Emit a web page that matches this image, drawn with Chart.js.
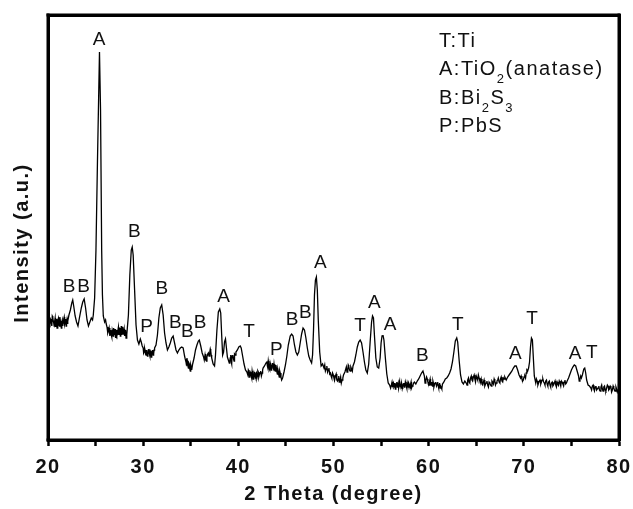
<!DOCTYPE html>
<html>
<head>
<meta charset="utf-8">
<script src="https://cdn.jsdelivr.net/npm/chart.js@4.4.0/dist/chart.umd.min.js"></script>
<style>
  html, body { margin: 0; padding: 0; background: #fff; }
  #wrap { width: 633px; height: 509px; }
</style>
</head>
<body>
<div id="wrap"><canvas id="xrd"></canvas></div>
<script>
// XRD scan, [2theta, intensity (a.u.)]
const scan20 = [
  [20.0,118],[20.1,122],[20.2,115],[20.3,120],[20.4,114],[20.5,123],[20.6,117],[20.7,119],[20.8,113],[20.9,121],
  [21.0,116],[21.1,122],[21.2,114],[21.3,119],[21.4,112],[21.5,120],[21.6,117],[21.7,123],[21.8,118],[21.9,114],
  [22.0,121],[22.1,119],[22.2,125],[22.35,130],[22.5,137],[22.6,140],[22.7,134],[22.85,124],[23.0,118],[23.15,114],
  [23.3,122],[23.5,132],[23.65,138],[23.8,141],[23.95,132],[24.1,120],[24.25,114],[24.4,118],[24.55,122],[24.68,120],
  [24.76,125],[24.9,142],[25.04,190],[25.2,280],[25.41,388],[25.52,330],[25.64,190],[25.72,145],[25.81,124],[25.95,118],
  [26.05,120],[26.2,113],[26.35,109],[26.5,104],[26.6,110],[26.7,103],[26.8,108],[26.9,112],[27.0,105],[27.1,102],
  [27.2,110],[27.3,106],[27.4,113],[27.5,109],[27.6,104],[27.7,114],[27.8,110],[27.9,106],[28.0,111],[28.1,107],
  [28.2,102],[28.3,105],[28.45,125],[28.6,165],[28.75,190],[28.85,193],[28.95,185],[29.1,150],[29.25,115],[29.4,100],
  [29.55,96],[29.7,101],[29.8,98],[29.9,94]
];
const scan30 = [
  [30.0,92],[30.1,88],[30.2,90],[30.3,85],[30.4,89],[30.5,86],[30.6,91],[30.7,84],[30.8,88],[30.9,85],
  [31.0,90],[31.1,86],[31.2,92],[31.35,95],[31.5,105],[31.65,122],[31.8,132],[31.95,135],[32.1,125],[32.25,107],
  [32.4,97],[32.55,90],[32.7,93],[32.85,97],[33.0,102],[33.15,104],[33.3,97],[33.45,90],[33.6,87],[33.75,90],
  [33.9,92],[34.05,93],[34.2,92],[34.35,84],[34.5,78],[34.6,82],[34.7,74],[34.8,77],[34.9,71],[35.0,75],
  [35.1,70],[35.2,76],[35.35,82],[35.5,90],[35.65,95],[35.8,99],[35.9,100],[36.05,94],[36.2,87],[36.35,83],
  [36.5,85],[36.6,80],[36.7,83],[36.85,87],[37.0,88],[37.1,89],[37.2,82],[37.35,76],[37.5,74],[37.6,85],
  [37.75,110],[37.9,128],[38.05,131],[38.15,127],[38.25,105],[38.35,85],[38.45,88],[38.55,98],[38.65,101],[38.75,92],
  [38.85,83],[38.95,80],[39.05,77],[39.15,82],[39.25,78],[39.35,84],[39.5,81],[39.6,86],[39.75,88],[39.9,90]
];
const scan40 = [
  [40.05,93],[40.2,94],[40.3,92],[40.45,84],[40.6,76],[40.75,70],[40.9,68],[41.0,65],[41.1,69],[41.2,64],
  [41.3,67],[41.4,62],[41.5,66],[41.6,63],[41.7,68],[41.8,62],[41.9,67],[42.0,64],[42.1,68],[42.2,65],
  [42.35,69],[42.5,67],[42.6,72],[42.75,74],[42.9,77],[43.0,78],[43.1,72],[43.2,76],[43.3,70],[43.4,75],
  [43.5,73],[43.6,77],[43.7,71],[43.8,74],[43.9,69],[44.0,72],[44.1,66],[44.2,69],[44.3,63],[44.4,67],
  [44.55,60],[44.65,62],[44.8,68],[44.95,75],[45.1,84],[45.25,95],[45.45,104],[45.6,106],[45.75,104],[45.9,95],
  [46.05,88],[46.2,85],[46.35,88],[46.5,97],[46.65,106],[46.8,112],[46.95,110],[47.1,102],[47.25,92],[47.4,84],
  [47.55,80],[47.7,77],[47.8,85],[47.9,110],[48.0,145],[48.1,160],[48.2,163],[48.3,150],[48.4,120],[48.55,88],
  [48.7,74],[48.85,76],[49.0,72],[49.15,69],[49.3,74],[49.45,70],[49.6,66],[49.75,64],[49.9,67]
];
const scan50 = [
  [50.05,62],[50.2,64],[50.35,60],[50.5,61],[50.6,58],[50.75,63],[50.9,60],[51.05,65],[51.2,68],[51.35,73],
  [51.5,70],[51.6,74],[51.75,69],[51.9,71],[52.05,74],[52.2,78],[52.35,85],[52.5,93],[52.65,98],[52.8,100],
  [52.95,97],[53.1,88],[53.25,78],[53.4,70],[53.55,67],[53.7,76],[53.85,98],[54.0,118],[54.1,124],[54.2,122],
  [54.3,105],[54.45,82],[54.6,73],[54.75,72],[54.9,82],[55.0,97],[55.1,104],[55.2,105],[55.3,100],[55.45,82],
  [55.6,66],[55.75,57],[55.9,55],[56.0,52],[56.1,56],[56.2,53],[56.3,57],[56.4,54],[56.5,51],[56.6,56],
  [56.7,53],[56.8,57],[56.9,54],[57.0,56],[57.1,52],[57.2,55],[57.3,53],[57.4,57],[57.5,54],[57.6,56],
  [57.7,52],[57.8,55],[57.9,57],[58.0,54],[58.1,56],[58.2,52],[58.35,55],[58.5,58],[58.65,56],[58.8,59],
  [58.95,61],[59.1,64],[59.25,67],[59.4,69],[59.55,64],[59.7,60],[59.85,61]
];
const scan60 = [
  [60.0,57],[60.1,59],[60.2,56],[60.3,58],[60.4,54],[60.5,57],[60.6,55],[60.75,58],[60.9,56],[61.0,54],
  [61.1,55],[61.2,52],[61.3,53],[61.45,56],[61.6,58],[61.75,61],[61.9,62],[62.05,64],[62.2,67],[62.35,71],
  [62.5,78],[62.65,88],[62.8,99],[62.95,102],[63.05,98],[63.2,80],[63.35,65],[63.5,58],[63.65,56],[63.8,59],
  [63.95,57],[64.1,60],[64.25,58],[64.4,62],[64.55,60],[64.7,63],[64.85,61],[65.0,64],[65.15,60],[65.3,62],
  [65.45,58],[65.6,56],[65.75,58],[65.9,54],[66.05,57],[66.2,55],[66.35,58],[66.5,55],[66.65,59],[66.8,56],
  [66.95,59],[67.1,57],[67.25,60],[67.4,58],[67.55,61],[67.7,59],[67.85,62],[68.0,63],[68.15,60],[68.3,63],
  [68.45,65],[68.6,67],[68.75,69],[68.9,72],[69.05,74],[69.2,74],[69.35,70],[69.5,65],[69.65,62],[69.8,61],
  [69.95,60]
];
const scan70 = [
  [70.1,64],[70.25,67],[70.4,69],[70.5,72],[70.6,78],[70.7,93],[70.8,102],[70.9,100],[71.0,82],[71.1,64],
  [71.25,57],[71.4,59],[71.55,57],[71.7,60],[71.85,58],[72.0,61],[72.15,57],[72.3,59],[72.45,56],[72.6,58],
  [72.75,55],[72.9,57],[73.05,54],[73.2,57],[73.35,55],[73.5,58],[73.65,55],[73.8,57],[73.95,59],[74.1,56],
  [74.25,58],[74.4,56],[74.55,59],[74.7,62],[74.85,66],[75.0,70],[75.15,73],[75.3,75],[75.45,74],[75.6,69],
  [75.75,64],[75.9,61],[76.05,62],[76.15,65],[76.3,71],[76.4,72],[76.5,67],[76.6,60],[76.75,55],[76.9,54],
  [77.05,52],[77.2,54],[77.35,51],[77.5,53],[77.65,50],[77.8,52],[77.95,50],[78.1,53],[78.25,51],[78.4,53],
  [78.55,50],[78.7,52],[78.85,54],[79.0,51],[79.15,53],[79.3,50],[79.45,52],[79.6,49],[79.75,51],[79.9,50],
  [80.0,52]
];

// in-between readings of the counting noise on the flat stretches
const noise20 = [
  [20.05,124],[20.15,116],[20.25,121],[20.35,117],[20.45,124],[20.55,119],[20.65,114],[20.75,122],[20.85,117],[20.95,112],
  [21.05,120],[21.15,115],[21.25,123],[21.35,115],[21.45,118],[21.55,114],[21.65,121],[21.75,116],[21.85,121],[21.95,118],
  [22.05,116],
  [26.12,116],[26.28,107],[26.42,112],[26.55,107],[26.65,105],[26.75,110],[26.85,104],[26.95,108],[27.05,111],[27.15,106],
  [27.25,104],[27.35,110],[27.45,105],[27.55,112],[27.65,108],[27.75,105],[27.85,113],[27.95,108],[28.05,104],[28.15,110],
  [28.25,106],
  [30.05,87],[30.15,92],[30.25,86],[30.35,90],[30.45,84],[30.55,90],[30.65,86],[30.75,89],[30.85,83],[30.95,89],
  [31.05,85],[31.15,90],
  [34.42,81],[34.55,75],[34.65,79],[34.75,72],[34.85,76],[34.95,69],[35.05,73],
  [36.42,80],[36.55,86],[36.65,79],[36.78,86],[36.92,84],[37.05,91],[37.15,85],
  [39.1,79],[39.2,85],[39.3,76],[39.42,85],[39.55,79],[39.68,85]
];
const noise40 = [
  [41.05,70],[41.15,63],[41.25,68],[41.35,64],[41.45,69],[41.55,61],[41.65,67],[41.75,64],[41.85,66],[41.95,62],
  [42.05,69],[42.15,63],[42.28,67],[42.42,64],[42.55,70],
  [43.05,74],[43.15,79],[43.25,71],[43.35,77],[43.45,70],[43.55,75],[43.65,72],[43.75,76],[43.85,70],[43.95,75],
  [44.05,68],[44.15,71],[44.25,65],[44.35,69],[44.48,63],
  [49.08,75],[49.22,71],[49.38,68],[49.52,72],[49.68,67],[49.82,62],[49.98,65],[50.12,60],[50.28,66],[50.42,59],
  [50.55,64],[50.68,60],[50.82,57],[50.98,62],
  [51.42,68],[51.55,75],[51.68,70],[51.82,73],[51.98,69],
  [56.05,54],[56.15,58],[56.25,55],[56.35,53],[56.45,57],[56.55,54],[56.65,58],[56.75,55],[56.85,52],[56.95,58],
  [57.05,54],[57.15,57],[57.25,51],[57.35,56],[57.45,53],[57.55,58],[57.65,54],[57.75,57],[57.85,53],[57.95,56],
  [58.05,52],[58.15,58],[58.28,54],[58.42,57],
  [59.62,57],[59.78,63],[59.92,58]
];
const noise60 = [
  [60.05,55],[60.15,61],[60.25,55],[60.35,57],[60.45,59],[60.55,53],[60.68,57],[60.82,54],[60.95,58],[61.05,52],
  [61.15,57],[61.25,54],[61.38,51],
  [64.03,55],[64.18,62],[64.32,57],[64.48,64],[64.62,59],[64.78,65],[64.92,58],[65.08,62],[65.22,65],[65.38,59],
  [65.52,61],[65.68,55],[65.82,60],[65.98,56],[66.12,59],[66.28,53],[66.42,57],[66.58,54],[66.72,58],[66.88,61],
  [67.02,55],[67.18,59],[67.32,62],[67.48,57],[67.62,63],[67.78,58],[67.92,61],
  [69.72,64],[69.88,59],[70.02,63],[70.18,62],[70.32,70],
  [71.32,61],[71.48,55],[71.62,59],[71.78,56],[71.92,60],[72.08,58],[72.22,55],[72.38,60],[72.52,54],[72.68,59],
  [72.82,53],[72.98,58],[73.12,55],[73.28,59],[73.42,53],[73.58,56],[73.72,59],[73.88,54],[74.02,58],[74.18,54],
  [74.32,60],[74.48,57],
  [75.82,59],[75.98,64],
  [77.12,50],[77.28,55],[77.42,49],[77.58,54],[77.72,51],[77.88,54],[78.02,49],[78.18,55],[78.32,49],[78.48,54],
  [78.62,49],[78.78,55],[78.92,50],[79.08,54],[79.22,48],[79.38,54],[79.52,50],[79.68,53],[79.82,48],[79.95,53]
];

// phase letters above the reflections: [2theta, intensity, letter]
const peakLabels = [
  [22.21,153,'B'],[23.75,153,'B'],[25.36,400,'A'],[29.07,208,'B'],[30.37,113,'P'],
  [31.95,151,'B'],[33.38,117,'B'],[34.64,108,'B'],[35.97,117,'B'],[38.46,143,'A'],
  [41.12,108,'T'],[43.99,90,'P'],[45.64,120,'B'],[47.04,127,'B'],[48.61,177,'A'],
  [52.78,114,'T'],[54.29,137,'A'],[55.94,115,'A'],[59.33,84,'B'],[63.05,115,'T'],
  [69.1,86,'A'],[70.86,121,'T'],[75.38,86,'A'],[77.13,87,'T']
];

// key in the upper right corner, [text, isSubscript]
const keyRows = [
  [['T:Ti', 0]],
  [['A:TiO', 0], ['2', 1], ['(anatase)', 0]],
  [['B:Bi', 0], ['2', 1], ['S', 0], ['3', 1]],
  [['P:PbS', 0]]
];

const xTitle = '2 Theta (degree)';
const yTitle = 'Intensity (a.u.)';

const points = [...scan20, ...scan30, ...scan40, ...scan50, ...scan60, ...scan70,
                ...noise20, ...noise40, ...noise60]
  .sort((a, b) => a[0] - b[0])
  .map(([t, v]) => ({x: t, y: v}));

const FONT = '"Liberation Sans", Arial, sans-serif';
Chart.defaults.font.family = FONT;
Chart.defaults.color = '#111';

// keep the plot box fixed: 48..619 wide, 15..440 high
const fitX = s => { s.height = 69; s.paddingLeft = 0; s.paddingRight = 0; };
const fitY = s => { s.width = 48; s.paddingTop = 0; s.paddingBottom = 0; };
const fitTop = s => { s.height = 0; s.paddingLeft = 0; s.paddingRight = 0; };
const fitRight = s => { s.width = 0; s.paddingTop = 0; s.paddingBottom = 0; };
const frameBorder = {display: true, color: '#000', width: 3};

const decor = {
  id: 'decor',
  afterDraw(chart) {
    const {ctx, chartArea: a, scales: {x, y}} = chart;
    const w = a.right - a.left, h = a.bottom - a.top, t = 3;
    ctx.save();
    // box round the plot
    ctx.fillStyle = '#000';
    ctx.fillRect(a.left - t / 2, a.top - t / 2, w + t, t);
    ctx.fillRect(a.left - t / 2, a.bottom - t / 2, w + t, t);
    ctx.fillRect(a.left - t / 2, a.top - t / 2, t, h + t);
    ctx.fillRect(a.right - t / 2, a.top - t / 2, t, h + t);

    ctx.fillStyle = '#111';
    ctx.font = '19px ' + FONT;
    ctx.textAlign = 'center';
    ctx.textBaseline = 'middle';
    peakLabels.forEach(([px, v, s]) => {
      ctx.fillText(s, x.getPixelForValue(px), y.getPixelForValue(v));
    });

    ctx.letterSpacing = '1.5px';
    ctx.textAlign = 'left';
    ctx.textBaseline = 'alphabetic';
    keyRows.forEach((row, i) => {
      let cx = 439;
      const base = 47 + i * 28.3;
      row.forEach(([txt, sub]) => {
        ctx.font = (sub ? '13px ' : '20px ') + FONT;
        ctx.fillText(txt, cx, base + (sub ? 8 : 0));
        cx += ctx.measureText(txt).width;
      });
    });

    ctx.translate(22, 243);
    ctx.rotate(-Math.PI / 2);
    ctx.font = 'bold 20px ' + FONT;
    ctx.textAlign = 'center';
    ctx.textBaseline = 'middle';
    ctx.fillText(yTitle, 0, 0);
    ctx.restore();
  }
};

// wider spacing for the axis texts drawn by Chart.js
const spacing = {
  id: 'spacing',
  beforeDraw(chart) { chart.ctx.letterSpacing = '1.5px'; },
  afterDraw(chart) { chart.ctx.letterSpacing = '0px'; }
};

new Chart(document.getElementById('xrd'), {
  type: 'scatter',
  data: {
    datasets: [{
      data: points,
      showLine: true,
      borderColor: '#000',
      borderWidth: 1.3,
      pointRadius: 0,
      tension: 0
    }]
  },
  options: {
    responsive: true,
    maintainAspectRatio: false,
    animation: false,
    devicePixelRatio: 1,
    layout: {padding: {top: 15, right: 14, left: 0, bottom: 0}},
    plugins: {
      legend: {display: false},
      tooltip: {enabled: false}
    },
    scales: {
      x: {
        type: 'linear',
        min: 20,
        max: 80,
        ticks: {
          stepSize: 5,
          autoSkip: false,
          maxRotation: 0,
          padding: 9,
          color: '#111',
          font: {size: 20, weight: 'bold'},
          callback: v => v % 10 === 0 ? v : ''
        },
        grid: {drawOnChartArea: false, drawTicks: true, tickLength: 6, tickWidth: 2.5, color: '#000'},
        border: frameBorder,
        title: {
          display: true,
          text: xTitle,
          color: '#111',
          font: {size: 20, weight: 'bold'},
          padding: {top: 0, bottom: 3}
        },
        afterFit: fitX
      },
      y: {
        min: 0,
        max: 425,
        ticks: {display: false},
        grid: {display: false},
        border: frameBorder,
        afterFit: fitY
      },
      x2: {
        type: 'linear',
        position: 'top',
        min: 20,
        max: 80,
        ticks: {display: false},
        grid: {display: false},
        border: frameBorder,
        afterFit: fitTop
      },
      y2: {
        type: 'linear',
        position: 'right',
        min: 0,
        max: 425,
        ticks: {display: false},
        grid: {display: false},
        border: frameBorder,
        afterFit: fitRight
      }
    }
  },
  plugins: [spacing, decor]
});
</script>
</body>
</html>
